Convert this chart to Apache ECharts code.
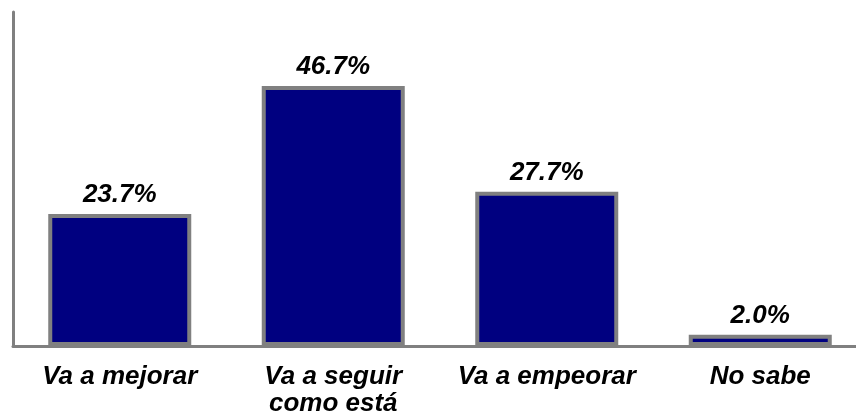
<!DOCTYPE html>
<html>
<head>
<meta charset="utf-8">
<script src="https://cdn.jsdelivr.net/npm/echarts@6/dist/echarts.min.js"></script>
<style>
html, body { margin: 0; padding: 0; background: #fff; }
#chart { width: 856px; height: 419px; }
</style>
</head>
<body>
<div id="chart"></div>
<script>
var categories = ['Va a mejorar', 'Va a seguir\ncomo está', 'Va a empeorar', 'No sabe'];
var values = [23.7, 46.7, 27.7, 2.0];

var chart = echarts.init(document.getElementById('chart'));
var axisGray = '#808080';
var font = '"Liberation Sans", Arial, sans-serif';

chart.setOption({
    animation: false,
    grid: { left: 13, width: 854, top: 12, bottom: 73, outerBoundsMode: 'none', containLabel: false },
    xAxis: {
        type: 'category',
        data: categories,
        axisLine: { lineStyle: { color: axisGray, width: 3 } },
        axisTick: { show: false },
        axisLabel: {
            color: '#000',
            fontFamily: font,
            fontSize: 26,
            fontWeight: 'bold',
            fontStyle: 'italic',
            margin: 17,
            lineHeight: 27,
            interval: 0
        }
    },
    yAxis: {
        type: 'value',
        min: 0,
        max: 60,
        axisLine: { show: true, lineStyle: { color: axisGray, width: 3 } },
        axisTick: { show: false },
        axisLabel: { show: false },
        splitLine: { show: false }
    },
    series: [{
        type: 'bar',
        data: values,
        barWidth: 143,
        itemStyle: {
            color: '#000080',
            borderColor: axisGray,
            borderWidth: 4
        },
        label: {
            show: true,
            position: 'top',
            distance: 6,
            color: '#000',
            fontFamily: font,
            fontSize: 26,
            fontWeight: 'bold',
            fontStyle: 'italic',
            formatter: function (p) { return p.value.toFixed(1) + '%'; }
        }
    }]
});
</script>
</body>
</html>
